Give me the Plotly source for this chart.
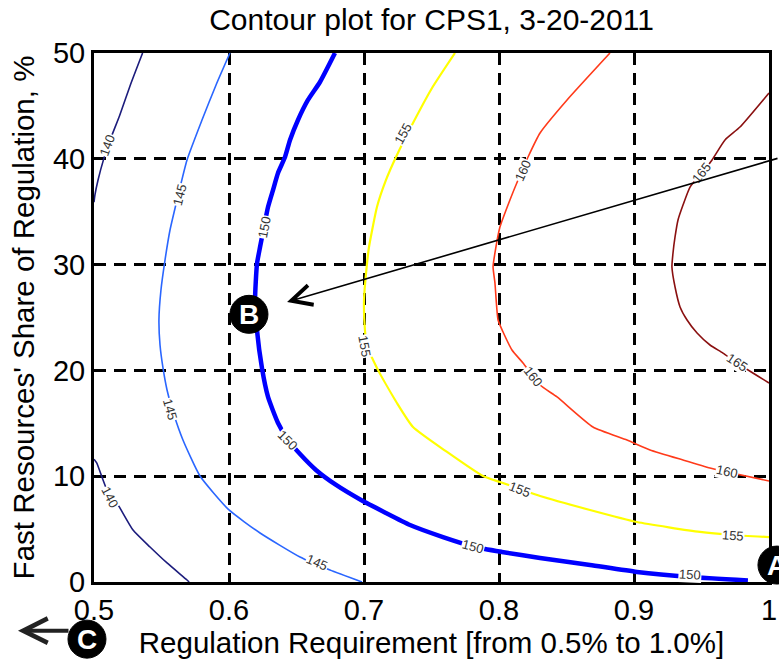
import plotly.graph_objects as go

# ---- contour lines (x: regulation requirement, y: fast share %) ----
x140_upper = [0.536, 0.527, 0.519, 0.512, 0.507, 0.503, 0.5007, 0.5]
y140_upper = [50, 47.0, 44.1, 41.8, 39.9, 38.0, 36.6, 35.9]
x140_lower = [0.5, 0.502, 0.5096, 0.517, 0.5289, 0.5415, 0.5541, 0.5689, 0.5705]
y140_lower = [11.6, 11.25, 8.7, 7.47, 4.91, 3.31, 1.8, 0.19, 0]

x145 = [0.6007, 0.5904, 0.58, 0.5689, 0.5615, 0.5563, 0.5526, 0.5496, 0.5481, 0.5489,
        0.5511, 0.5541, 0.5593, 0.5659, 0.5785, 0.6, 0.623, 0.6526, 0.6748, 0.6985]
y145 = [50, 46.98, 43.67, 39.89, 36.11, 33.27, 30.43, 27.6, 24.76, 22.4,
        20.23, 18.15, 15.78, 13.42, 10.02, 6.81, 4.63, 2.36, 1.13, 0]

x150 = [0.6785, 0.6674, 0.6585, 0.6511, 0.6452, 0.6415, 0.6363, 0.6326, 0.6289, 0.6259,
        0.623, 0.6207, 0.6193, 0.6207, 0.6244, 0.6289, 0.6363, 0.6437, 0.6533, 0.6644,
        0.6793, 0.6978, 0.7148, 0.7341, 0.7585, 0.7822, 0.8022, 0.8304, 0.8674, 0.9022,
        0.9415, 0.9844]
y150 = [50, 47.26, 45.56, 43.67, 41.78, 40.17, 38.66, 37.05, 35.44, 33.55,
        31.66, 30.06, 26.65, 23.82, 20.23, 17.49, 15.03, 13.42, 12.0, 10.59,
        9.17, 7.75, 6.62, 5.39, 4.25, 3.31, 2.84, 2.27, 1.61, 0.95,
        0.47, 0.15]

x155 = [0.7674, 0.7504, 0.7363, 0.7237, 0.7163, 0.7096, 0.7037, 0.7022, 0.7, 0.7007,
        0.7022, 0.7096, 0.7244, 0.7363, 0.7615, 0.7881, 0.8007, 0.8156, 0.8304,
        0.8674, 0.9022, 0.9489, 0.9733, 1.0]
y155 = [50, 46.69, 43.38, 40.17, 38.0, 35.44, 31.66, 30.06, 26.65, 23.82,
        22.4, 20.23, 16.92, 14.65, 12.29, 10.02, 9.45, 8.79, 8.13,
        6.81, 5.67, 4.73, 4.44, 4.25]

x160 = [0.8822, 0.8504, 0.8304, 0.8215, 0.8141, 0.8081, 0.8007, 0.797, 0.7956, 0.797,
        0.7993, 0.803, 0.8096, 0.8178, 0.8304, 0.843, 0.8696, 0.8948, 0.9119, 0.9363,
        0.9563, 0.9689, 1.0]
y160 = [50, 45.56, 42.44, 40.17, 38.0, 36.11, 33.55, 31.1, 29.77, 28.26,
        24.76, 23.63, 21.93, 20.7, 18.62, 17.49, 14.65, 13.42, 12.48, 11.53,
        10.78, 10.4, 9.55]

x165 = [1.0, 0.9785, 0.9674, 0.9578, 0.9504, 0.9415, 0.9363, 0.9326, 0.9304, 0.9289,
        0.9281, 0.9304, 0.9341, 0.9393, 0.9467, 0.9563, 0.9659, 0.9763, 1.0]
y165 = [46.22, 43.0, 41.78, 39.89, 38.66, 37.33, 35.63, 34.22, 32.61, 31.1,
        29.77, 27.88, 26.0, 24.76, 23.53, 22.4, 21.64, 20.7, 18.81]

# ---- contour labels ----
label_text = ["140", "140", "145", "145", "145", "150", "150", "150", "150",
              "155", "155", "155", "155", "160", "160", "160", "165", "165"]
label_x = [0.5096, 0.5119, 0.5637, 0.5563, 0.6652, 0.6259, 0.6437, 0.7807, 0.9415,
           0.7289, 0.7007, 0.8156, 0.9733, 0.8178, 0.8252, 0.9689, 0.9504, 0.9763]
label_y = [41.3, 8.0, 36.6, 16.3, 1.8, 33.55, 13.42, 3.35, 0.75,
           42.4, 22.3, 8.79, 4.44, 38.9, 19.4, 10.4, 38.66, 20.7]
label_angle = [-70, 63, -76, 74, 23, -79, 45, 15, 3,
               -61, 80, 21, 4, -66, 52, 12, -51, 33]

# ---- marked points (A and C lie just outside the axes) ----
point_names = ["A", "B", "C"]
point_x = [1.0059, 0.6148, 0.4948]
point_y = [1.6, 25.3, -5.4]

# arrow leaving C towards the left (head position)
c_arrow_x = 0.4437
c_arrow_y = -4.6
# arrow pointing at B (head position)
b_arrow_x = 0.643
b_arrow_y = 26.47

x_range = [0.5, 1.0]
y_range = [0, 50]
x_ticks = [0.5, 0.6, 0.7, 0.8, 0.9, 1.0]
x_tick_text = ["0.5", "0.6", "0.7", "0.8", "0.9", "1"]
y_ticks = [0, 10, 20, 30, 40, 50]

FONT = "Liberation Sans, Arial, sans-serif"


def to_paper_x(v):
    return (v - x_range[0]) / (x_range[1] - x_range[0])


def to_paper_y(v):
    return (v - y_range[0]) / (y_range[1] - y_range[0])


fig = go.Figure()

segments = [
    (x140_upper, y140_upper, "#1c1c7c", 1.6),
    (x140_lower, y140_lower, "#1c1c7c", 1.6),
    (x145, y145, "#2a66ff", 1.6),
    (x150, y150, "#0000ff", 4.5),
    (x155, y155, "#ffff00", 2.2),
    (x160, y160, "#ff3a1a", 1.6),
    (x165, y165, "#8a1010", 1.6),
]
for xs, ys, col, w in segments:
    fig.add_trace(go.Scatter(x=xs, y=ys, mode="lines",
                             line=dict(color=col, width=w, shape="spline", smoothing=0.5),
                             hoverinfo="skip", showlegend=False))

for t, lx, ly, ang in zip(label_text, label_x, label_y, label_angle):
    fig.add_annotation(x=lx, y=ly, text=t, showarrow=False, textangle=ang,
                       font=dict(family=FONT, size=13, color="#333333"),
                       bgcolor="white", borderpad=0)

# long arrow pointing at B
fig.add_annotation(x=b_arrow_x, y=b_arrow_y, ax=513, ay=-144, text="", showarrow=True,
                   arrowhead=5, arrowwidth=1.6, arrowsize=2.5, arrowcolor="black")
# arrow leaving C to the left
fig.add_annotation(x=to_paper_x(c_arrow_x), y=to_paper_y(c_arrow_y), xref="paper", yref="paper",
                   ax=52, ay=0, text="", showarrow=True,
                   arrowhead=5, arrowwidth=4, arrowsize=1.2, arrowcolor="#222222")

# circled letters
for name, px, py in zip(point_names, point_x, point_y):
    fx, fy = to_paper_x(px), to_paper_y(py)
    fig.add_shape(type="circle", xref="paper", yref="paper",
                  xsizemode="pixel", ysizemode="pixel", xanchor=fx, yanchor=fy,
                  x0=-19, x1=19, y0=-19, y1=19,
                  fillcolor="black", line=dict(color="black", width=1), layer="above")
    fig.add_annotation(x=fx, y=fy, xref="paper", yref="paper", text=name, showarrow=False,
                       font=dict(family=FONT, size=28, color="white", weight="bold"),
                       xanchor="center", yanchor="middle")

fig.update_layout(
    width=779, height=661,
    margin=dict(l=94, r=10, t=53, b=79, autoexpand=False),
    paper_bgcolor="white", plot_bgcolor="white",
    font=dict(family=FONT, size=29, color="black"),
    title=dict(text="Contour plot for CPS1, 3-20-2011", x=0.5, xref="paper",
               y=1 - 19 / 661, yanchor="middle", font=dict(size=30, color="black")),
    xaxis=dict(range=x_range, tickvals=x_ticks, ticktext=x_tick_text,
               showline=True, linecolor="black", linewidth=3, mirror=True,
               showgrid=True, gridcolor="black", gridwidth=3, griddash="12px,8px",
               zeroline=False, ticks="",
               title=dict(text="Regulation Requirement [from 0.5% to 1.0%]", standoff=4,
                          font=dict(size=29.5))),
    yaxis=dict(range=y_range, tickvals=y_ticks,
               showline=True, linecolor="black", linewidth=3, mirror=True,
               showgrid=True, gridcolor="black", gridwidth=3, griddash="12px,8px",
               zeroline=False, ticks="",
               title=dict(text="Fast Resources' Share of Regulation, %", standoff=10,
                          font=dict(size=29.5))),
)

fig.write_html("out.html")
